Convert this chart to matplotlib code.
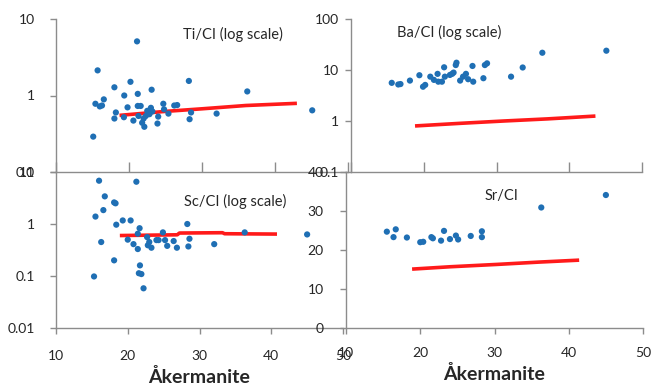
"""Trace element / CI ratios vs akermanite content (four overlapping panels)"""

import matplotlib
matplotlib.use('Agg')
import matplotlib.pyplot as plt

plt.rcParams['font.family'] = ['Lato', 'DejaVu Sans']

# ---- data ----
ti_x = [15.1, 15.7, 15.4, 16.0, 16.3, 16.55, 18.0, 18.2, 18.0, 19.3, 19.35, 19.8,
        20.2, 21.1, 21.2, 21.2, 20.6, 21.3, 21.6, 21.8, 22.1, 22.0, 22.3, 22.5,
        23.0, 22.8, 23.2, 23.1, 23.9, 24.0, 24.7, 24.8, 25.4, 26.2, 26.6, 28.2,
        28.3, 28.5, 32.0, 36.2, 45.1]
ti_y = [0.29, 2.13, 0.78, 0.72, 0.74, 0.89, 1.28, 0.60, 0.50, 0.52, 1.0, 0.70,
        1.51, 5.1, 1.05, 0.73, 0.47, 0.54, 0.73, 0.44, 0.39, 0.50, 0.54, 0.63,
        0.69, 0.57, 0.62, 1.19, 0.43, 0.53, 0.78, 0.66, 0.58, 0.74, 0.75, 1.55,
        0.49, 0.60, 0.58, 1.13, 0.64]
ti_model_x = [18.7, 25, 30, 36, 43]
ti_model_y = [0.55, 0.62, 0.67, 0.74, 0.79]

ba_x = [15.6, 16.5, 16.8, 18.1, 19.4, 19.9, 20.2, 20.9, 21.4, 21.9, 22.0, 22.5,
        22.8, 22.9, 23.6, 23.9, 24.1, 24.4, 24.5, 25.0, 25.4, 25.8, 26.1, 26.7,
        26.8, 28.2, 28.4, 28.7, 32.0, 33.6, 36.3, 45.1]
ba_y = [5.6, 5.2, 5.3, 6.2, 7.9, 4.7, 5.1, 7.4, 6.4, 8.4, 5.9, 5.9,
        11.3, 7.4, 8.0, 8.4, 8.9, 12.5, 13.9, 6.2, 7.4, 8.4, 6.6, 12.0,
        5.9, 6.9, 12.5, 13.5, 7.4, 11.2, 21.8, 23.9]
ba_model_x = [18.8, 25, 31, 37, 43.6]
ba_model_y = [0.80, 0.90, 1.0, 1.10, 1.25]

sc_x = [16.0, 21.2, 16.8, 18.1, 18.3, 16.6, 15.5, 19.3, 20.4, 18.4, 28.3, 21.65,
        21.4, 24.9, 16.3, 20.0, 20.8, 21.4, 22.7, 23.0, 22.8, 23.3, 24.0, 24.3,
        25.2, 25.5, 26.4, 26.85, 28.6, 28.45, 32.05, 36.3, 45.0, 18.1, 21.7,
        21.55, 21.9, 15.3, 22.2]
sc_y = [6.8, 6.5, 3.4, 2.6, 2.5, 1.85, 1.39, 1.17, 1.17, 0.97, 1.0, 0.83,
        0.65, 0.69, 0.45, 0.50, 0.41, 0.33, 0.56, 0.45, 0.39, 0.35, 0.49, 0.49,
        0.49, 0.38, 0.47, 0.35, 0.52, 0.37, 0.41, 0.69, 0.63, 0.20, 0.16,
        0.113, 0.109, 0.098, 0.058]
sc_model_x = [18.9, 26.9, 27.2, 33.2, 33.5, 40.8]
sc_model_y = [0.60, 0.62, 0.67, 0.68, 0.65, 0.64]

sr_x = [15.5, 16.7, 16.4, 18.2, 20.0, 20.4, 21.5, 21.7, 22.8, 23.2, 24.0, 24.8,
        25.1, 26.8, 28.3, 28.3, 36.3, 45.0]
sr_y = [24.7, 25.3, 23.3, 23.2, 22.0, 22.1, 23.3, 23.0, 22.4, 24.9, 22.8, 23.7,
        22.7, 23.6, 24.8, 23.3, 30.9, 34.1]
sr_model_x = [18.9, 24, 30.3, 36, 41.4]
sr_model_y = [15.1, 15.7, 16.3, 16.9, 17.4]

x_ticks = [10, 20, 30, 40, 50]

DOT = '#1f6fb4'
RED = '#ff1a1a'
SPINE = '#8c8c8c'
TXT = '#262626'

W, H = 652, 385
fig = plt.figure(figsize=(W / 100, H / 100), dpi=100)


def panel(left, right, top, bottom):
    ax = fig.add_axes([left / W, (H - bottom) / H, (right - left) / W, (bottom - top) / H])
    ax.patch.set_alpha(0)
    for s in ('top', 'right'):
        ax.spines[s].set_visible(False)
    for s in ('left', 'bottom'):
        ax.spines[s].set_color(SPINE)
        ax.spines[s].set_linewidth(1.0)
    ax.set_xlim(10, 50)
    ax.set_xticks(x_ticks)
    return ax


def style_ticks(ax, xpad, ypad):
    ax.tick_params(colors=SPINE, labelcolor=TXT, labelsize=10, width=1.0)
    ax.tick_params(axis='x', length=4, pad=xpad)
    ax.tick_params(axis='y', length=4, pad=ypad)


def log_labels(ax, ticks):
    ax.set_yscale('log')
    ax.set_yticks(ticks)
    ax.set_yticklabels([f'{t:g}' for t in ticks])
    ax.minorticks_off()


def draw(ax, x, y, mx, my):
    ax.plot(mx, my, color=RED, linewidth=2.6, solid_capstyle='butt', zorder=2)
    ax.scatter(x, y, s=20, color=DOT, edgecolors='none', zorder=3)


# top left: Ti
ax1 = panel(56, 348, 19, 172)
log_labels(ax1, [0.1, 1, 10])
ax1.set_ylim(0.1, 10)
draw(ax1, ti_x, ti_y, ti_model_x, ti_model_y)
style_ticks(ax1, 4, 11)
ax1.tick_params(axis='x', direction='in', length=7, labelbottom=False)
ax1.text(34.2, 6.2, 'Ti/CI (log scale)', ha='center', va='center', fontsize=10.5, color=TXT)

# top right: Ba
ax2 = panel(351, 642, 19, 172)
log_labels(ax2, [0.1, 1, 10, 100])
ax2.set_ylim(0.1, 100)
draw(ax2, ba_x, ba_y, ba_model_x, ba_model_y)
style_ticks(ax2, 4, 5)
ax2.tick_params(axis='x', direction='in', length=7, labelbottom=False)
ax2.text(23.5, 55, 'Ba/CI (log scale)', ha='center', va='center', fontsize=10.5, color=TXT)

# bottom left: Sc
ax3 = panel(56, 343, 172, 328)
log_labels(ax3, [0.01, 0.1, 1, 10])
ax3.set_ylim(0.01, 10)
draw(ax3, sc_x, sc_y, sc_model_x, sc_model_y)
style_ticks(ax3, 12, 11)
ax3.text(35, 2.7, 'Sc/CI (log scale)', ha='center', va='center', fontsize=10.5, color=TXT)
ax3.set_xlabel('Åkermanite', fontsize=14, fontweight='bold', color=TXT, labelpad=4)

# bottom right: Sr
ax4 = panel(346, 643, 172, 328)
ax4.set_ylim(0, 40)
ax4.set_yticks([0, 10, 20, 30, 40])
draw(ax4, sr_x, sr_y, sr_model_x, sr_model_y)
style_ticks(ax4, 10, 12)
ax4.text(31, 33.9, 'Sr/CI', ha='center', va='center', fontsize=10.5, color=TXT)
ax4.set_xlabel('Åkermanite', fontsize=14, fontweight='bold', color=TXT, labelpad=4)

fig.savefig('out.png', dpi=100)
plt.close(fig)
